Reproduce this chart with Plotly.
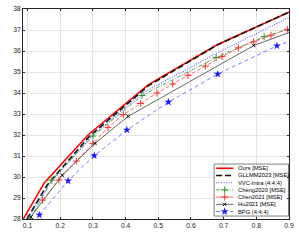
import plotly.graph_objects as go

# ---------------- data ----------------
ours_x = [0.087, 0.151, 0.285, 0.47, 0.68, 0.90]
ours_y = [28.0, 29.72, 32.0, 34.4, 36.3, 37.85]

gllmm_x = [0.098, 0.16, 0.29, 0.47, 0.68, 0.90]
gllmm_y = [28.0, 29.62, 31.95, 34.35, 36.28, 37.85]

vvc_x = [0.10, 0.168, 0.30, 0.45, 0.677, 0.90]
vvc_y = [28.0, 29.7, 32.0, 33.98, 35.88, 37.6]

cheng_x = [0.108, 0.174, 0.30, 0.45, 0.677, 0.824, 0.95]
cheng_y = [28.0, 29.85, 31.95, 33.88, 35.69, 36.68, 37.3]

chen_x = [0.146, 0.196, 0.249, 0.30, 0.346, 0.393, 0.446, 0.496, 0.544,
          0.591, 0.644, 0.695, 0.745, 0.792, 0.845, 0.895]
chen_y = [28.9, 29.86, 30.76, 31.6, 32.35, 32.97, 33.5, 34.0, 34.43,
          34.84, 35.28, 35.74, 36.15, 36.44, 36.75, 37.03]

hu_x = [0.11, 0.206, 0.306, 0.408, 0.792, 1.0]
hu_y = [28.1, 30.09, 31.6, 32.89, 36.26, 37.45]

bpg_x = [0.136, 0.224, 0.304, 0.404, 0.531, 0.682, 0.863, 1.0]
bpg_y = [28.19, 29.82, 31.02, 32.24, 33.57, 34.9, 36.25, 37.0]

x_ticks = [0.1, 0.2, 0.3, 0.4, 0.5, 0.6, 0.7, 0.8, 0.9]
x_ticktext = ["0.1", "0.2", "0.3", "0.4", "0.5", "0.6", "0.7", "0.8", "0.9"]
y_ticks = [28, 29, 30, 31, 32, 33, 34, 35, 36, 37, 38]

legend_names = ["Ours [MSE]", "GLLMM2023 [MSE]", "VVC-Intra (4:4:4)",
                "Cheng2020 [MSE]", "Chen2021 [MSE]", "Hu2021 [MSE]", "BPG (4:4:4)"]

# ---------------- styles ----------------
FONT = "Liberation Sans, Arial, sans-serif"
TXT = "#262626"
styles = [
    dict(color="#ff0000", width=1.6, dash="solid", symbol=None, msize=0, mcolor=None),
    dict(color="#111111", width=1.6, dash="6px,3px", symbol=None, msize=0, mcolor=None),
    dict(color="#5a5aff", width=1.1, dash="1px,1.5px", symbol=None, msize=0, mcolor=None),
    dict(color="#3aa53a", width=0.9, dash="4px,1.5px,1px,1.5px", symbol="cross-thin", msize=5, mcolor="#2e9a2e"),
    dict(color="#ff5a5a", width=0.9, dash="4px,2px", symbol="cross-thin", msize=5, mcolor="#ff3030"),
    dict(color="#555555", width=0.9, dash="solid", symbol="x-thin", msize=3.5, mcolor="#111111"),
    dict(color="#6b6bff", width=0.9, dash="4px,3px", symbol="star", msize=6, mcolor="#1a1aff"),
]
series = [(ours_x, ours_y), (gllmm_x, gllmm_y), (vvc_x, vvc_y), (cheng_x, cheng_y),
          (chen_x, chen_y), (hu_x, hu_y), (bpg_x, bpg_y)]

fig = go.Figure()

def marker_of(st):
    if st["symbol"] is None:
        return dict(size=0, opacity=0)
    if st["symbol"] == "star":
        return dict(symbol="star", size=st["msize"], color=st["mcolor"],
                    line=dict(width=0))
    return dict(symbol=st["symbol"], size=st["msize"], color=st["mcolor"],
                line=dict(width=1, color=st["mcolor"]))

for (xs, ys), st, nm in zip(series, styles, legend_names):
    fig.add_trace(go.Scatter(
        x=xs, y=ys, name=nm, mode="lines+markers" if st["symbol"] else "lines",
        line=dict(color=st["color"], width=st["width"], dash=st["dash"]),
        marker=marker_of(st), showlegend=False, hoverinfo="skip",
    ))

# ---------------- custom legend on a pixel overlay axis ----------------
L, R, T, B = 23, 293, 5, 219
box_x0, box_x1, box_y0, box_y1 = 217, 292.5, 163, 216
fig.add_trace(go.Scatter(
    x=[box_x0, box_x1, box_x1, box_x0, box_x0],
    y=[box_y0, box_y0, box_y1, box_y1, box_y0],
    xaxis="x2", yaxis="y2", mode="lines", fill="toself", fillcolor="white",
    line=dict(color="#262626", width=0.6), showlegend=False, hoverinfo="skip",
    cliponaxis=False,
))
row0, dy = 167.3, 7.35
for i, (st, nm) in enumerate(zip(styles, legend_names)):
    yy = row0 + i * dy
    fig.add_trace(go.Scatter(
        x=[219, 236.5], y=[yy, yy], xaxis="x2", yaxis="y2", mode="lines",
        line=dict(color=st["color"], width=st["width"], dash=st["dash"] if i != 4 else "solid"),
        showlegend=False, hoverinfo="skip", cliponaxis=False,
    ))
    if st["symbol"]:
        fig.add_trace(go.Scatter(
            x=[227.7], y=[yy], xaxis="x2", yaxis="y2", mode="markers",
            marker=marker_of(st), showlegend=False, hoverinfo="skip", cliponaxis=False,
        ))
    fig.add_annotation(x=239, y=yy, xref="x2", yref="y2", text=nm, showarrow=False,
                       xanchor="left", yanchor="middle",
                       font=dict(family=FONT, size=5.8, color="#000000"))

# axis titles
fig.add_annotation(x=(L + R) / 2, y=233, xref="x2", yref="y2", text="bits/pixel (bpp)",
                   showarrow=False, xanchor="center", yanchor="middle",
                   font=dict(family=FONT, size=6.8, color=TXT))
fig.add_annotation(x=4.5, y=(T + B) / 2, xref="x2", yref="y2", text="PSNR (dB)",
                   showarrow=False, xanchor="center", yanchor="middle", textangle=-90,
                   font=dict(family=FONT, size=6.8, color=TXT))

axis_common = dict(
    showline=True, linecolor=TXT, linewidth=0.6, mirror="ticks",
    ticks="inside", ticklen=2.5, tickwidth=0.5, tickcolor=TXT,
    showgrid=True, gridcolor="#e3e3e3", gridwidth=0.6, zeroline=False,
    tickfont=dict(family=FONT, size=6.8, color=TXT),
)

fig.update_layout(
    width=299, height=240,
    margin=dict(l=L, r=299 - R, t=T, b=240 - B, pad=0),
    paper_bgcolor="white", plot_bgcolor="white",
    showlegend=False,
    xaxis=dict(range=[0.086, 0.9], tickvals=x_ticks, ticktext=x_ticktext, **axis_common),
    yaxis=dict(range=[28, 38], tickvals=y_ticks, **axis_common),
    xaxis2=dict(range=[L, R], overlaying="x", anchor="y2", visible=False,
                showgrid=False, zeroline=False, fixedrange=True),
    yaxis2=dict(range=[B, T], overlaying="y", anchor="x2", visible=False,
                showgrid=False, zeroline=False, fixedrange=True),
)

fig.write_html(
    "out.html",
    config={"displayModeBar": False},
    post_script="document.body.style.margin='0px';document.body.style.overflow='hidden';",
)
